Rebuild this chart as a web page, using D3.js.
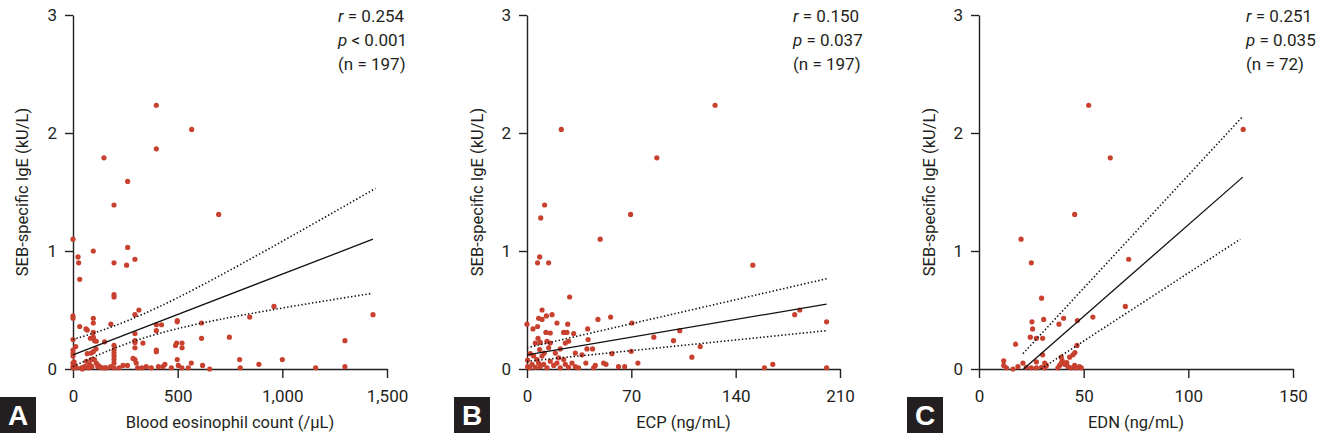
<!DOCTYPE html>
<html><head><meta charset="utf-8">
<script src="https://cdn.jsdelivr.net/npm/d3@7"></script>
<style>
html,body{margin:0;padding:0;background:#fff;}
svg text{font-family:"Liberation Sans Narrow","Roboto","Liberation Sans",sans-serif;fill:#231f20;}
</style></head>
<body><svg id="chart" width="1318" height="435"></svg>
<script>
// ---------- DATA ----------
const yTicks = [0, 1, 2, 3];
const yLabel = "SEB-specific IgE (kU/L)";

// Panel A: Blood eosinophil count (/μL) vs SEB-specific IgE
const aTicks = [0, 500, 1000, 1500];
const aTickLabels = ["0", "500", "1,000", "1,500"];
const aX = [398,567,398,148,261,196,696,0,97,24,27,261,296,256,196,32,196,196,960,844,1433,315,296,0,0,97,97,32,181,398,423,498,498,614,62,68,97,83,97,0,398,296,296,296,334,151,103,111,196,196,747,614,1299,490,495,521,521,398,398,296,110,97,87,68,13,0,0,0,0,0,0,16,196,196,196,196,196,287,296,302,309,239,498,503,551,565,619,653,796,799,888,1000,1159,1299,350,374,408,439,102,111,127,159,138,64,60,48,80,87,119,5,10,40,55,75,120,150,180,220,260,330,430,470,520,45,90];
const aY = [2.235,2.03,1.866,1.79,1.59,1.39,1.31,1.10,1.0,0.95,0.90,1.03,0.93,0.88,0.90,0.76,0.63,0.61,0.53,0.44,0.46,0.50,0.46,0.45,0.43,0.43,0.39,0.36,0.38,0.375,0.375,0.41,0.40,0.39,0.34,0.33,0.31,0.26,0.27,0.25,0.325,0.30,0.24,0.225,0.22,0.23,0.24,0.235,0.20,0.16,0.27,0.26,0.24,0.20,0.22,0.22,0.18,0.16,0.147,0.18,0.17,0.147,0.135,0.13,0.19,0.16,0.135,0.11,0.05,0.02,0.01,0.01,0.135,0.11,0.08,0.05,0.01,0.09,0.08,0.05,0.01,0.03,0.08,0.03,0.01,0.05,0.03,0.0,0.08,0.01,0.04,0.08,0.01,0.02,0.02,0.01,0.02,0.04,0.08,0.05,0.02,0.01,0.01,0.065,0.02,0.01,0.04,0.08,0.02,0.06,0.03,0.01,0.02,0.01,0.03,0.01,0.02,0.01,0.03,0.01,0.02,0.01,0.01,0.0,0.02,0.06];
const aFit = [[0, 0.12], [1433, 1.10]];
const aUpper = [[0, 0.25], [495, 0.60], [1445, 1.53]];
const aLower = [[0, 0.02], [495, 0.34], [1425, 0.64]];
const aStats = [["r", " = 0.254"], ["p", " < 0.001"], ["", "(n = 197)"]];

// Panel B: ECP (ng/mL)
const bTicks = [0, 70, 140, 210];
const bTickLabels = ["0", "70", "140", "210"];
const bX = [126.2,23.0,87.1,11.8,9.2,69.5,49.1,8.5,7.1,14.5,151.5,28.6,10.1,183,179.6,16.8,13.0,7.8,10.1,47.6,56.1,20.1,27.3,70.4,201,0,7.1,4.0,40.7,12.7,24.6,26.8,31.3,102.5,85.1,98.3,116.2,69.9,110.6,164.9,159.3,201,74.4,65.5,61.4,57,51.4,53,45.8,44.7,41,44,40.2,39.5,36.9,32.4,27.9,25.7,22.3,19,15.6,15.6,13.4,8.9,5.6,7.4,14.5,10.1,6.7,2.2,0.4,0.4,1.8,3.4,5.6,7.8,8.9,11.2,13.4,15.6,17.9,20.1,22.3,24.6,25.7,27.9,30.2,32.4,34.6,21.2,4.5,11.6,8.5];
const bY = [2.235,2.03,1.79,1.39,1.28,1.31,1.10,0.95,0.90,0.90,0.88,0.61,0.50,0.50,0.46,0.46,0.45,0.43,0.42,0.42,0.44,0.39,0.38,0.39,0.40,0.38,0.36,0.34,0.34,0.31,0.31,0.31,0.30,0.325,0.27,0.24,0.19,0.15,0.10,0.04,0.01,0.01,0.05,0.02,0.02,0.13,0.05,0.04,0.03,0.01,0.25,0.17,0.17,0.05,0.12,0.135,0.235,0.22,0.17,0.135,0.305,0.22,0.235,0.225,0.22,0.26,0.18,0.11,0.08,0.13,0.075,0.02,0.01,0.04,0.015,0.05,0.02,0.04,0.01,0.065,0.03,0.05,0.01,0.08,0.04,0.015,0.05,0.02,0.01,0.095,0.11,0.135,0.165];
const bFit = [[0, 0.12], [201, 0.55]];
const bUpper = [[0, 0.18], [201, 0.765]];
const bLower = [[0, 0.065], [201, 0.325]];
const bStats = [["r", " = 0.150"], ["p", " = 0.037"], ["", "(n = 197)"]];

// Panel C: EDN (ng/mL)
const cTicks = [0, 50, 100, 150];
const cTickLabels = ["0", "50", "100", "150"];
const cX = [52.4,126.2,62.7,45.7,20.1,71.5,25.0,29.9,69.9,54.4,40.4,30.9,47.0,25.3,38.2,25.6,24.5,27.4,30.4,17.5,46.8,30.4,45.8,44.9,43.3,39.3,39.8,11.8,11.8,13.1,16.2,18.6,21.0,22.6,25.0,27.4,27.4,29.9,31.4,32.2,31.4,37.7,38.5,39.3,40.9,42.5,44.1,45.7,46.5,48.0,48.9,41.9];
const cY = [2.235,2.03,1.79,1.31,1.10,0.93,0.90,0.60,0.53,0.44,0.43,0.42,0.41,0.40,0.38,0.34,0.27,0.26,0.26,0.21,0.20,0.12,0.14,0.12,0.10,0.10,0.07,0.07,0.03,0.01,0.0,0.02,0.05,0.015,0.01,0.06,0.01,0.015,0.05,0.03,0.01,0.01,0.03,0.05,0.04,0.02,0.01,0.03,0.01,0.02,0.01,0.055];
const cFit = [[21.3, 0], [126, 1.626]];
const cUpper = [[21, 0.13], [126, 2.14]];
const cLower = [[29.5, 0], [124.8, 1.10]];
const cStats = [["r", " = 0.251"], ["p", " = 0.035"], ["", "(n = 72)"]];

// ---------- DRAW ----------
const svg = d3.select("#chart");
const DOT = "#c8412f", INK = "#231f20";

const panels = [
  {letter:"A", x0:73, x1:387, domain:[0,1500], ticks:aTicks, labels:aTickLabels, xs:aX, ys:aY, fit:aFit, up:aUpper, lo:aLower, stats:aStats, statX:338, ylabX:22, boxX:0, xlabel:"Blood eosinophil count (/\u03bcL)"},
  {letter:"B", x0:527, x1:840, domain:[0,210], ticks:bTicks, labels:bTickLabels, xs:bX, ys:bY, fit:bFit, up:bUpper, lo:bLower, stats:bStats, statX:793, ylabX:477, boxX:454, xlabel:"ECP (ng/mL)"},
  {letter:"C", x0:979, x1:1293, domain:[0,150], ticks:cTicks, labels:cTickLabels, xs:cX, ys:cY, fit:cFit, up:cUpper, lo:cLower, stats:cStats, statX:1246, ylabX:929, boxX:907, xlabel:"EDN (ng/mL)"}
];

const yTop = 15, yBot = 369;

panels.forEach(p => {
  const x = d3.scaleLinear().domain(p.domain).range([p.x0, p.x1]);
  const y = d3.scaleLinear().domain([0,3]).range([yBot, yTop]);
  const g = svg.append("g");

  // axes
  const yAxis = d3.axisLeft(y).tickValues(yTicks).tickSize(8).tickSizeOuter(0).tickPadding(8).tickFormat(d3.format("d"));
  const yg = g.append("g").attr("transform", `translate(${p.x0},0)`).call(yAxis);
  const xAxis = d3.axisBottom(x).tickValues(p.ticks).tickSize(9).tickSizeOuter(0).tickPadding(8).tickFormat((d,i)=>p.labels[i]);
  const xg = g.append("g").attr("transform", `translate(0,${yBot})`).call(xAxis);
  [yg, xg].forEach(a => {
    a.select(".domain").attr("stroke", INK).attr("stroke-width", 1.4);
    a.selectAll(".tick line").attr("stroke", INK).attr("stroke-width", 1.4);
    a.selectAll(".tick text").attr("font-size", 17).attr("fill", INK)
      .style("font-family", '"Liberation Sans Narrow","Roboto",sans-serif');
  });
  xg.selectAll(".tick text").attr("dy", "0.95em");

  // dots
  g.append("g").selectAll("circle").data(p.xs.map((v,i)=>[v, p.ys[i]])).join("circle")
    .attr("cx", d => x(d[0])).attr("cy", d => y(d[1])).attr("r", 2.6).attr("fill", DOT);

  // lines
  const line = d3.line().x(d => x(d[0])).y(d => y(d[1])).curve(d3.curveNatural);
  g.append("path").attr("d", line(p.fit)).attr("fill","none").attr("stroke","#111").attr("stroke-width",1.3);
  [p.up, p.lo].forEach(b => g.append("path").attr("d", line(b)).attr("fill","none")
    .attr("stroke","#111").attr("stroke-width",1.6).attr("stroke-dasharray","1.4,2.2"));

  // stats
  p.stats.forEach((s,i) => {
    const t = g.append("text").attr("x", p.statX).attr("y", 22 + i*24).attr("font-size", 17);
    if (s[0]) t.append("tspan").attr("font-style","italic").text(s[0]);
    t.append("tspan").text(s[1]);
  });

  // y label
  g.append("text").attr("transform", `translate(${p.ylabX},${(yTop+yBot)/2}) rotate(-90)`)
    .attr("text-anchor","middle").attr("dy","0.35em").attr("font-size",16.5).text(yLabel);

  // x label
  g.append("text").attr("x", (p.x0+p.x1)/2).attr("y", 428).attr("text-anchor","middle")
    .attr("font-size",16.5).text(p.xlabel);

  // panel letter
  g.append("rect").attr("x", p.boxX).attr("y", 397).attr("width", 36).attr("height", 36).attr("fill", INK);
  g.append("text").attr("x", p.boxX+18).attr("y", 425).attr("text-anchor","middle")
    .attr("font-size", 28).attr("font-weight","bold").style("fill","#fff")
    .style("font-family",'"Liberation Sans","Roboto",sans-serif').text(p.letter);
});
</script></body></html>
